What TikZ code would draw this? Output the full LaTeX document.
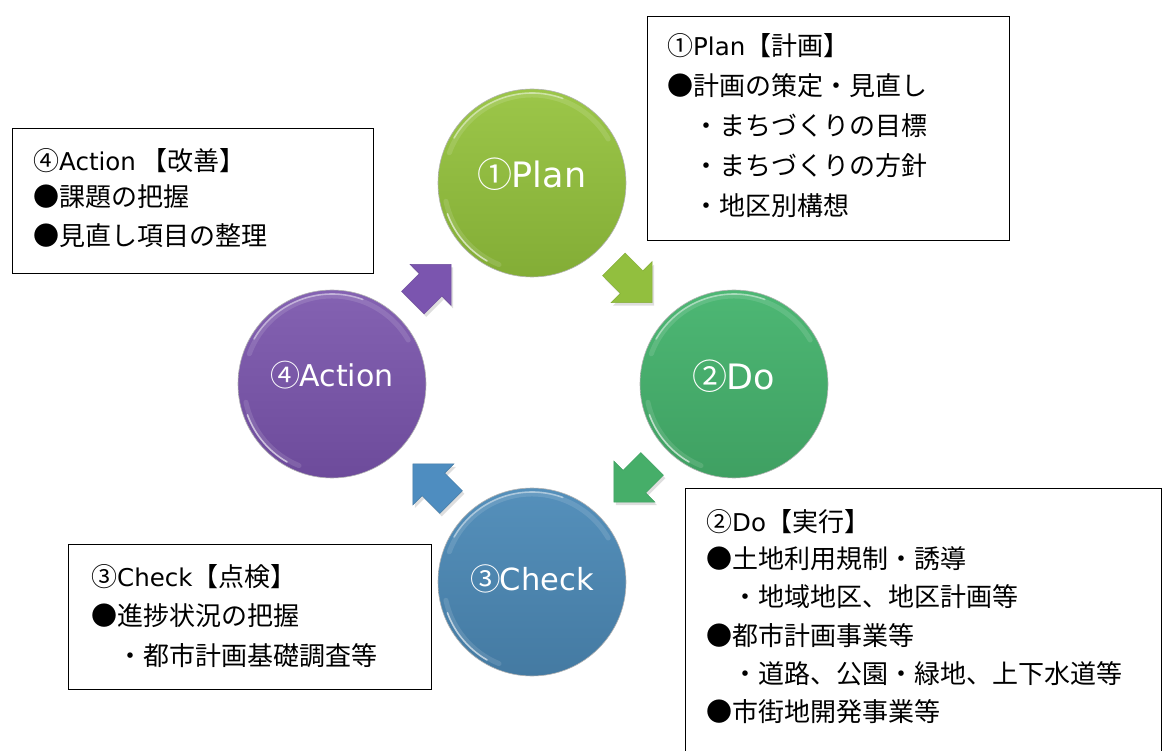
\documentclass[tikz,border=0pt]{standalone}
\usepackage{fontspec}
\setmainfont{Noto Sans CJK JP}
\newfontfamily\latfam{DejaVu Sans}
\usetikzlibrary{calc}
\definecolor{planTop}{HTML}{9CC649}
\definecolor{planBot}{HTML}{83AD36}
\definecolor{planArr}{HTML}{92BF3E}
\definecolor{doTop}{HTML}{4DB774}
\definecolor{doBot}{HTML}{3FA062}
\definecolor{doArr}{HTML}{46AE69}
\definecolor{chkTop}{HTML}{5590BB}
\definecolor{chkBot}{HTML}{447AA2}
\definecolor{chkArr}{HTML}{4E8DC0}
\definecolor{actTop}{HTML}{8462B2}
\definecolor{actBot}{HTML}{6D4B9B}
\definecolor{actArr}{HTML}{7B55AF}
\newcommand\ltsm[1]{{\latfam\fontsize{24.5}{28}\selectfont #1}}
\newcommand\ballstr[3]{{\fontsize{#1}{#1}\selectfont #2}{\latfam\fontsize{#1}{#1}\selectfont\hspace{-1pt}#3}}
\tikzset{
  ball/.style={circle, inner sep=0pt, minimum size=188pt, draw=black!30, line width=0.6pt},
  balltext/.style={anchor=base, inner sep=0pt, text=white},
  infobox/.style={draw=black, line width=1.3pt, rectangle, inner sep=0pt, anchor=north west, fill=white},
  btxt/.style={anchor=base west, inner sep=0pt, font=\fontsize{26}{30}\selectfont},
  blockarrow/.pic={\path[pic actions] (-27,-16) -- (-2,-16) -- (-2,-29) -- (27,0) -- (-2,29) -- (-2,16) -- (-27,16) -- cycle;},
  arrowshadow/.style={fill=black, opacity=0.13},
  rimsoft/.style={white, line width=5pt, opacity=0.12, line cap=round},
  rimhard/.style={white, line width=1.6pt, opacity=0.45, line cap=round}
}
\begin{document}
\begin{tikzpicture}[x=1pt,y=-1pt]
\useasboundingbox (0,0) rectangle (1163,751);
\clip (0,0) rectangle (1163,751);
\fill[white] (0,0) rectangle (1163,751);

% circles
\node[ball, top color=planTop, bottom color=planBot] (plan) at (532,183) {};
\node[ball, top color=doTop, bottom color=doBot] (do) at (734,384) {};
\node[ball, top color=chkTop, bottom color=chkBot] (check) at (532,582) {};
\node[ball, top color=actTop, bottom color=actBot] (action) at (332,384) {};

% glossy rims
\foreach \c in {plan,do,check,action}{
  \draw[rimsoft] ($(\c)+(200:88)$) arc[start angle=200, end angle=330, radius=88];
  \draw[rimhard] ($(\c)+(210:90)$) arc[start angle=210, end angle=290, radius=90];
  \draw[rimsoft] ($(\c)+(112:88)$) arc[start angle=112, end angle=168, radius=88];
  \draw[rimhard, opacity=0.6] ($(\c)+(120:90)$) arc[start angle=120, end angle=160, radius=90];
}

% circle labels
\node[balltext] (planlbl) at ($(plan)+(0,5)$) {\ballstr{35}{①}{Plan}};
\node[balltext] (dolbl) at ($(do)+(0,6)$) {\ballstr{35}{②}{Do}};
\node[balltext] (checklbl) at ($(check)+(0,8)$) {\ballstr{30.5}{③}{Check}};
\node[balltext] (actionlbl) at ($(action)+(0,3)$) {\ballstr{30}{④}{Action}};

% block arrows between circles
\pic[rotate=-45, arrowshadow] at ($(plan)!0.5!(do)+(2,3)$) {blockarrow};
\pic[rotate=-45, fill=planArr, draw=planBot, line width=0.5pt] at ($(plan)!0.5!(do)$) {blockarrow};
\pic[rotate=-135, arrowshadow] at ($(do)!0.5!(check)+(2,3)$) {blockarrow};
\pic[rotate=-135, fill=doArr, draw=doBot, line width=0.5pt] at ($(do)!0.5!(check)$) {blockarrow};
\pic[rotate=135, arrowshadow] at ($(check)!0.5!(action)+(2,3)$) {blockarrow};
\pic[rotate=135, fill=chkArr, draw=chkBot, line width=0.5pt] at ($(check)!0.5!(action)$) {blockarrow};
\pic[rotate=45, arrowshadow] at ($(action)!0.5!(plan)+(2,3)$) {blockarrow};
\pic[rotate=45, fill=actArr, draw=actBot, line width=0.5pt] at ($(action)!0.5!(plan)$) {blockarrow};

% boxes
\node[infobox, minimum width=362pt, minimum height=224pt] (planbox) at (647,16) {};
\node[infobox, minimum width=361pt, minimum height=145pt] (actbox) at (12,128) {};
\node[infobox, minimum width=476pt, minimum height=290pt] (dobox) at (685,488) {};
\node[infobox, minimum width=363pt, minimum height=145pt] (chkbox) at (68,544) {};

% Plan text
\node[btxt] (p1) at (667,56) {①\ltsm{Plan}【計画】};
\node[btxt] (p2) at (667,96) {●計画の策定・見直し};
\node[btxt] (p3) at (667,136) {　・まちづくりの目標};
\node[btxt] (p4) at (667,176) {　・まちづくりの方針};
\node[btxt] (p5) at (667,216) {　・地区別構想};

% Action text
\node[btxt] (a1) at (33,171) {④\ltsm{Action} 【改善】};
\node[btxt] (a2) at (33,207) {●課題の把握};
\node[btxt] (a3) at (33,246) {●見直し項目の整理};

% Do text
\node[btxt] (d1) at (706,531) {②\ltsm{Do}【実行】};
\node[btxt] (d2) at (706,568) {●土地利用規制・誘導};
\node[btxt] (d3) at (706,606) {　・地域地区、地区計画等};
\node[btxt] (d4) at (706,645) {●都市計画事業等};
\node[btxt] (d5) at (706,683) {　・道路、公園・緑地、上下水道等};
\node[btxt] (d6) at (706,721) {●市街地開発事業等};

% Check text
\node[btxt] (c1) at (91,586) {③\ltsm{Check}【点検】};
\node[btxt] (c2) at (91,625) {●進捗状況の把握};
\node[btxt] (c3) at (91,665) {　・都市計画基礎調査等};
\end{tikzpicture}
\end{document}
